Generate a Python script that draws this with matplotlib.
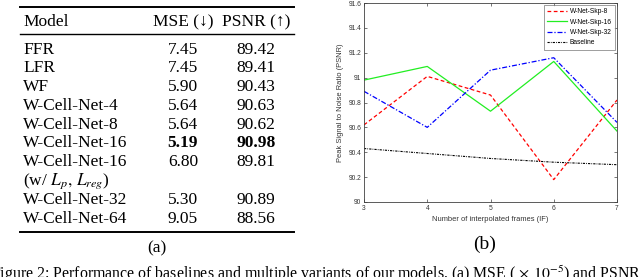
import matplotlib
matplotlib.use("Agg")
import matplotlib.pyplot as plt
from matplotlib.lines import Line2D

# ---------------- data ----------------
models = ["FFR", "LFR", "WF", "W-Cell-Net-4", "W-Cell-Net-8", "W-Cell-Net-16",
          "W-Cell-Net-16", "(w/ $L_p,\\, L_{reg}$)", "W-Cell-Net-32", "W-Cell-Net-64"]
mse = ["7.45", "7.45", "5.90", "5.64", "5.64", "5.19", "6.80", "", "5.30", "9.05"]
psnr = ["89.42", "89.41", "90.43", "90.63", "90.62", "90.98", "89.81", "", "90.89", "88.56"]
bold_rows = [5]

frames = [3, 4, 5, 6, 7]
skp8 = [90.62, 91.01, 90.86, 90.18, 90.82]
skp16 = [90.98, 91.09, 90.73, 91.13, 90.57]
skp32 = [90.89, 90.60, 91.06, 91.16, 90.64]
baseline = [90.43, 90.39, 90.35, 90.32, 90.30]
series_labels = ["W-Net-Skp-8", "W-Net-Skp-16", "W-Net-Skp-32", "Baseline"]
yticks = [90, 90.2, 90.4, 90.6, 90.8, 91, 91.2, 91.4, 91.6]
ytick_labels = ["90", "90.2", "90.4", "90.6", "90.8", "91", "91.2", "91.4", "91.6"]

# ---------------- figure ----------------
plt.rcParams["mathtext.fontset"] = "stix"
W, H = 640, 277
fig = plt.figure(figsize=(6.4, 2.77), dpi=100)

def fx(x):
    return x / W

def fy(y):
    return 1 - y / H

serif = ["Liberation Serif", "DejaVu Serif"]
sans = ["Liberation Sans", "DejaVu Sans"]
fs = 12.5

# table rules
for y, lw in [(7, 1.4), (34, 1.0), (232, 1.4)]:
    fig.add_artist(Line2D([fx(20), fx(294)], [fy(y), fy(y)], color="black", lw=lw))

# header
hb = 26
fig.text(fx(23), fy(hb), "Model", family=serif, fontsize=fs, va="baseline", ha="left")
fig.text(fx(183), fy(hb), "MSE (↓)", family=serif, fontsize=fs, va="baseline", ha="center")
fig.text(fx(256), fy(hb), "PSNR (↑)", family=serif, fontsize=fs, va="baseline", ha="center")

row_centers = [49, 67, 86, 105, 124, 142, 161, 180, 199, 218]
for i, (m, a, b) in enumerate(zip(models, mse, psnr)):
    yb = row_centers[i] + 5
    fig.text(fx(23), fy(yb), m, family=serif, fontsize=fs, va="baseline", ha="left")
    w = "bold" if i in bold_rows else "normal"
    fig.text(fx(183), fy(yb), a, family=serif, fontsize=fs, va="baseline", ha="center", weight=w)
    fig.text(fx(256), fy(yb), b, family=serif, fontsize=fs, va="baseline", ha="center", weight=w)

fig.text(fx(157), fy(248), "(a)", family=serif, fontsize=fs, va="center", ha="center")
fig.text(fx(485), fy(244), "(b)", family=serif, fontsize=14, va="center", ha="center")

fig.text(fx(-9), fy(279), "Figure 2: Performance of baselines and multiple variants of our models. (a) MSE ($\\,\\times\\,10^{-5}$) and PSNR",
         family=serif, fontsize=11.4, va="baseline", ha="left")

# ---------------- chart ----------------
ax = fig.add_axes([fx(364), fy(202), fx(617 - 364), (202 - 3) / H])
ax.plot(frames, skp8, color="#ff0000", ls=(0, (3, 2)), lw=0.9, label=series_labels[0])
ax.plot(frames, skp16, color="#22ee22", ls="-", lw=0.9, label=series_labels[1])
ax.plot(frames, skp32, color="#0000ff", ls=(0, (4, 1.5, 1, 1.5)), lw=0.9, label=series_labels[2])
ax.plot(frames, baseline, color="black", ls=(0, (2, 1, 0.7, 1)), lw=0.8, label=series_labels[3])

ax.set_xlim(3, 7)
ax.set_ylim(90, 91.6)
ax.set_xticks(frames)
ax.set_yticks(yticks)
ax.set_yticklabels(ytick_labels)
tfs = 4.8
ax.tick_params(direction="in", length=2, width=0.5, labelsize=tfs, top=True, right=True,
               pad=2, colors="#404040", labelcolor="#333333")
for lab in ax.get_xticklabels() + ax.get_yticklabels():
    lab.set_family(sans)
for s in ax.spines.values():
    s.set_linewidth(0.6)
    s.set_color("#404040")
ax.set_xlabel("Number of interpolated frames (IF)", family=sans, fontsize=5.4, labelpad=3, color="#333333")
ax.set_ylabel("Peak Signal to Noise Ratio (PSNR)", family=sans, fontsize=5.4, labelpad=3, color="#333333")

leg = ax.legend(loc="upper right", prop={"family": sans, "size": tfs}, handlelength=3.0,
                frameon=True, fancybox=False, borderaxespad=0.3, labelspacing=0.5,
                handletextpad=0.4, borderpad=0.5)
leg.get_frame().set_edgecolor("#555555")
leg.get_frame().set_linewidth(0.5)

fig.savefig("out.png", dpi=100)
